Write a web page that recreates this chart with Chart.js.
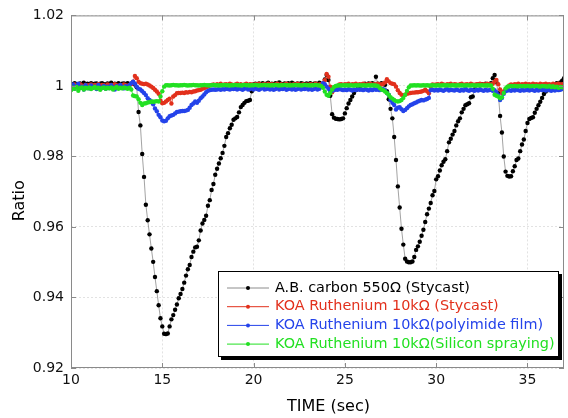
<!DOCTYPE html>
<html>
<head>
<meta charset="utf-8">
<script src="https://cdn.jsdelivr.net/npm/chart.js@4.4.0/dist/chart.umd.min.js"></script>
<style>
  html, body { margin: 0; padding: 0; background: #fff; }
  #wrap { width: 568px; height: 418px; }
</style>
</head>
<body>
<div id="wrap"><canvas id="myChart" width="568" height="418"></canvas></div>
<script>
// sample times (sec)
const time = [
  10.0, 10.1, 10.2, 10.3, 10.4, 10.5, 10.6, 10.7, 10.8, 10.9,
  11.0, 11.1, 11.2, 11.3, 11.4, 11.5, 11.6, 11.7, 11.8, 11.9,
  12.0, 12.1, 12.2, 12.3, 12.4, 12.5, 12.6, 12.7, 12.8, 12.9,
  13.0, 13.1, 13.2, 13.3, 13.4, 13.5, 13.6, 13.7, 13.8, 13.9,
  14.0, 14.1, 14.2, 14.3, 14.4, 14.5, 14.6, 14.7, 14.8, 14.9,
  15.0, 15.1, 15.2, 15.3, 15.4, 15.5, 15.6, 15.7, 15.8, 15.9,
  16.0, 16.1, 16.2, 16.3, 16.4, 16.5, 16.6, 16.7, 16.8, 16.9,
  17.0, 17.1, 17.2, 17.3, 17.4, 17.5, 17.6, 17.7, 17.8, 17.9,
  18.0, 18.1, 18.2, 18.3, 18.4, 18.5, 18.6, 18.7, 18.8, 18.9,
  19.0, 19.1, 19.2, 19.3, 19.4, 19.5, 19.6, 19.7, 19.8, 19.9,
  20.0, 20.1, 20.2, 20.3, 20.4, 20.5, 20.6, 20.7, 20.8, 20.9,
  21.0, 21.1, 21.2, 21.3, 21.4, 21.5, 21.6, 21.7, 21.8, 21.9,
  22.0, 22.1, 22.2, 22.3, 22.4, 22.5, 22.6, 22.7, 22.8, 22.9,
  23.0, 23.1, 23.2, 23.3, 23.4, 23.5, 23.6, 23.7, 23.8, 23.9,
  24.0, 24.1, 24.2, 24.3, 24.4, 24.5, 24.6, 24.7, 24.8, 24.9,
  25.0, 25.1, 25.2, 25.3, 25.4, 25.5, 25.6, 25.7, 25.8, 25.9,
  26.0, 26.1, 26.2, 26.3, 26.4, 26.5, 26.6, 26.7, 26.8, 26.9,
  27.0, 27.1, 27.2, 27.3, 27.4, 27.5, 27.6, 27.7, 27.8, 27.9,
  28.0, 28.1, 28.2, 28.3, 28.4, 28.5, 28.6, 28.7, 28.8, 28.9,
  29.0, 29.1, 29.2, 29.3, 29.4, 29.5, 29.6, 29.7, 29.8, 29.9,
  30.0, 30.1, 30.2, 30.3, 30.4, 30.5, 30.6, 30.7, 30.8, 30.9,
  31.0, 31.1, 31.2, 31.3, 31.4, 31.5, 31.6, 31.7, 31.8, 31.9,
  32.0, 32.1, 32.2, 32.3, 32.4, 32.5, 32.6, 32.7, 32.8, 32.9,
  33.0, 33.1, 33.2, 33.3, 33.4, 33.5, 33.6, 33.7, 33.8, 33.9,
  34.0, 34.1, 34.2, 34.3, 34.4, 34.5, 34.6, 34.7, 34.8, 34.9,
  35.0, 35.1, 35.2, 35.3, 35.4, 35.5, 35.6, 35.7, 35.8, 35.9,
  36.0, 36.1, 36.2, 36.3, 36.4, 36.5, 36.6, 36.7, 36.8, 36.9,
  37.0
];

// A.B. carbon 550 ohm (Stycast)
const carbon = [
  1.0006, 1.0004, 1.0008, 1.0005, 1.0003, 1.0007, 1.0005, 1.0009, 1.0004, 1.0006,
  1.0005, 1.0008, 1.0004, 1.0006, 1.0007, 1.0003, 1.0006, 1.0008, 1.0005, 1.0004,
  1.0007, 1.0005, 1.0009, 1.0004, 1.0006, 1.0005, 1.0008, 1.0003, 1.0006, 1.0007,
  1.0005, 1.0008, 1.0004, 1.0006, 1.0010, 1.0004, 0.9996, 0.9926, 0.9888, 0.9807,
  0.9742, 0.9663, 0.9619, 0.9579, 0.9539, 0.9501, 0.9458, 0.9418, 0.9378, 0.9341,
  0.9318, 0.9297, 0.9296, 0.9298, 0.9318, 0.9338, 0.9350, 0.9365, 0.9380, 0.9398,
  0.9410, 0.9424, 0.9442, 0.9462, 0.9480, 0.9492, 0.9515, 0.9530, 0.9542, 0.9544,
  0.9562, 0.9590, 0.9610, 0.9620, 0.9632, 0.9660, 0.9676, 0.9705, 0.9722, 0.9748,
  0.9765, 0.9780, 0.9795, 0.9810, 0.9830, 0.9855, 0.9866, 0.9880, 0.9890, 0.9904,
  0.9908, 0.9912, 0.9925, 0.9940, 0.9946, 0.9952, 0.9957, 0.9958, 0.9960, 0.9985,
  1.0004, 1.0006, 1.0003, 1.0007, 1.0005, 1.0008, 1.0004, 1.0006, 1.0009, 1.0005,
  1.0006, 1.0004, 1.0008, 1.0005, 1.0010, 1.0006, 1.0004, 1.0007, 1.0005, 1.0008,
  1.0005, 1.0009, 1.0006, 1.0004, 1.0007, 1.0005, 1.0008, 1.0006, 1.0004, 1.0007,
  1.0005, 1.0008, 1.0004, 1.0006, 1.0007, 1.0005, 1.0009, 1.0004, 1.0006, 1.0018,
  1.0031, 1.0017, 0.9972, 0.9920, 0.9910, 0.9907, 0.9906, 0.9905, 0.9906, 0.9908,
  0.9922, 0.9937, 0.9950, 0.9960, 0.9970, 0.9980, 0.9988, 0.9992, 0.9996, 1.0002,
  1.0004, 1.0006, 1.0003, 1.0007, 1.0005, 1.0008, 1.0004, 1.0026, 1.0006, 1.0004,
  1.0008, 1.0005, 1.0003, 0.9985, 0.9962, 0.9935, 0.9908, 0.9855, 0.9790, 0.9715,
  0.9655, 0.9595, 0.9550, 0.9510, 0.9502, 0.9500, 0.9500, 0.9502, 0.9515, 0.9535,
  0.9545, 0.9558, 0.9575, 0.9592, 0.9614, 0.9636, 0.9652, 0.9668, 0.9690, 0.9702,
  0.9735, 0.9744, 0.9760, 0.9775, 0.9785, 0.9792, 0.9815, 0.9840, 0.9850, 0.9862,
  0.9872, 0.9888, 0.9900, 0.9908, 0.9925, 0.9935, 0.9945, 0.9948, 0.9951, 0.9968,
  0.9970, 0.9990, 1.0002, 1.0004, 1.0001, 1.0005, 1.0003, 1.0006, 1.0002, 1.0004,
  1.0008, 1.0022, 1.0031, 1.0010, 0.9979, 0.9915, 0.9868, 0.9800, 0.9757, 0.9745,
  0.9743, 0.9744, 0.9758, 0.9772, 0.9790, 0.9794, 0.9815, 0.9834, 0.9848, 0.9872,
  0.9895, 0.9906, 0.9909, 0.9911, 0.9924, 0.9935, 0.9945, 0.9955, 0.9966, 0.9977,
  0.9984, 0.9988, 0.9993, 0.9996, 1.0000, 1.0004, 1.0008, 1.0006, 1.0010, 1.0015,
  1.0022
];

// KOA Ruthenium 10k ohm (Stycast)
const koaStycast = [
  1.0003, 1.0000, 1.0004, 0.9999, 1.0002, 1.0005, 1.0001, 0.9998, 1.0003, 1.0001,
  1.0002, 1.0004, 0.9999, 1.0003, 1.0001, 1.0005, 1.0000, 1.0003, 1.0002, 0.9999,
  1.0004, 1.0001, 1.0003, 1.0000, 1.0005, 1.0002, 0.9999, 1.0003, 1.0001, 1.0004,
  1.0002, 1.0000, 1.0003, 1.0005, 1.0012, 1.0028, 1.0022, 1.0012, 1.0008, 1.0006,
  1.0005, 1.0006, 1.0004, 1.0001, 0.9998, 0.9994, 0.9989, 0.9984, 0.9978, 0.9958,
  0.9951, 0.9952, 0.9956, 0.9960, 0.9964, 0.9950, 0.9970, 0.9974, 0.9979, 0.9980,
  0.9980, 0.9981, 0.9980, 0.9982, 0.9981, 0.9983, 0.9982, 0.9984, 0.9985, 0.9987,
  0.9988, 0.9989, 0.9992, 0.9994, 0.9996, 0.9998, 1.0001, 1.0003, 1.0004, 1.0002,
  1.0005, 1.0003, 1.0006, 1.0002, 1.0004, 1.0005, 1.0003, 1.0006, 1.0004, 1.0002,
  1.0004, 1.0006, 1.0003, 1.0005, 1.0002, 1.0004, 1.0006, 1.0003, 1.0005, 1.0004,
  1.0003, 1.0005, 1.0004, 1.0006, 1.0002, 1.0004, 1.0005, 1.0003, 1.0006, 1.0004,
  1.0005, 1.0003, 1.0004, 1.0006, 1.0002, 1.0005, 1.0003, 1.0004, 1.0006, 1.0003,
  1.0004, 1.0002, 1.0005, 1.0003, 1.0006, 1.0004, 1.0003, 1.0005, 1.0002, 1.0004,
  1.0003, 1.0005, 1.0004, 1.0002, 1.0006, 1.0003, 1.0004, 1.0005, 1.0008, 1.0016,
  1.0034, 1.0026, 0.9998, 0.9982, 0.9990, 0.9996, 1.0000, 1.0004, 1.0005, 1.0003,
  1.0005, 1.0004, 1.0006, 1.0003, 1.0005, 1.0004, 1.0006, 1.0003, 1.0005, 1.0004,
  1.0006, 1.0003, 1.0005, 1.0004, 1.0006, 1.0003, 1.0005, 1.0004, 1.0006, 1.0005,
  1.0004, 1.0006, 1.0010, 1.0019, 1.0013, 1.0008, 1.0006, 1.0005, 0.9998, 0.9988,
  0.9980, 0.9975, 0.9972, 0.9975, 0.9978, 0.9979, 0.9980, 0.9981, 0.9981, 0.9982,
  0.9982, 0.9983, 0.9984, 0.9986, 0.9989, 0.9985, 0.9979, 0.9998, 1.0004, 1.0003,
  1.0004, 1.0005, 1.0003, 1.0006, 1.0004, 1.0002, 1.0005, 1.0004, 1.0006, 1.0003,
  1.0005, 1.0004, 1.0002, 1.0005, 1.0006, 1.0003, 1.0004, 1.0005, 1.0003, 1.0006,
  1.0004, 1.0003, 1.0005, 1.0004, 1.0006, 1.0003, 1.0005, 1.0004, 1.0006, 1.0005,
  1.0004, 1.0006, 1.0012, 1.0017, 1.0005, 0.9990, 0.9980, 0.9984, 0.9990, 0.9996,
  1.0001, 1.0004, 1.0003, 1.0005, 1.0004, 1.0006, 1.0003, 1.0005, 1.0004, 1.0006,
  1.0004, 1.0005, 1.0003, 1.0006, 1.0004, 1.0005, 1.0003, 1.0006, 1.0004, 1.0005,
  1.0006, 1.0004, 1.0005, 1.0003, 1.0006, 1.0004, 1.0005, 1.0006, 1.0004, 1.0005,
  1.0004
];

// KOA Ruthenium 10k ohm (polyimide film)
const koaPolyimide = [
  0.9996, 1.0004, 0.9992, 0.9999, 1.0006, 0.9994, 0.9998, 0.9990, 1.0002, 0.9996,
  0.9993, 1.0001, 0.9995, 0.9998, 0.9991, 1.0003, 0.9996, 0.9994, 1.0000, 0.9992,
  0.9998, 0.9994, 1.0002, 0.9996, 0.9990, 0.9999, 0.9995, 1.0003, 0.9997, 0.9993,
  0.9999, 0.9995, 1.0002, 1.0008, 1.0012, 1.0006, 0.9998, 0.9992, 0.9990, 0.9985,
  0.9980, 0.9974, 0.9965, 0.9960, 0.9956, 0.9948, 0.9936, 0.9928, 0.9918, 0.9911,
  0.9902, 0.9900, 0.9901, 0.9908, 0.9914, 0.9916, 0.9918, 0.9922, 0.9926, 0.9927,
  0.9928, 0.9929, 0.9929, 0.9930, 0.9932, 0.9938, 0.9946, 0.9950, 0.9956, 0.9952,
  0.9958, 0.9965, 0.9970, 0.9976, 0.9982, 0.9986, 0.9988, 0.9989, 0.9990, 0.9989,
  0.9990, 0.9991, 0.9989, 0.9991, 0.9990, 0.9992, 0.9991, 0.9990, 0.9992, 0.9991,
  0.9992, 0.9990, 0.9993, 0.9991, 0.9989, 0.9992, 0.9994, 0.9990, 0.9991, 0.9993,
  0.9990, 0.9993, 0.9991, 0.9989, 0.9992, 0.9995, 0.9990, 0.9991, 0.9993, 0.9990,
  0.9992, 0.9989, 0.9991, 0.9994, 0.9990, 0.9992, 0.9991, 0.9993, 0.9989, 0.9991,
  0.9993, 0.9990, 0.9992, 0.9989, 0.9991, 0.9994, 0.9990, 0.9992, 0.9991, 0.9993,
  0.9990, 0.9992, 0.9989, 0.9991, 0.9993, 0.9990, 0.9992, 0.9998, 1.0008, 1.0005,
  0.9998, 0.9992, 0.9984, 0.9986, 0.9988, 0.9990, 0.9989, 0.9991, 0.9990, 0.9988,
  0.9990, 0.9988, 0.9991, 0.9989, 0.9987, 0.9990, 0.9988, 0.9991, 0.9989, 0.9990,
  0.9988, 0.9991, 0.9989, 0.9987, 0.9990, 0.9988, 0.9991, 0.9989, 0.9990, 0.9988,
  0.9990, 0.9991, 0.9988, 0.9980, 0.9975, 0.9960, 0.9952, 0.9946, 0.9933, 0.9938,
  0.9940, 0.9934, 0.9929, 0.9932, 0.9937, 0.9942, 0.9946, 0.9948, 0.9951, 0.9953,
  0.9956, 0.9958, 0.9960, 0.9959, 0.9961, 0.9963, 0.9966, 0.9988, 0.9989, 0.9987,
  0.9989, 0.9987, 0.9990, 0.9988, 0.9986, 0.9989, 0.9991, 0.9987, 0.9989, 0.9988,
  0.9987, 0.9990, 0.9988, 0.9986, 0.9989, 0.9987, 0.9995, 0.9988, 0.9986, 0.9989,
  0.9988, 0.9986, 0.9989, 0.9987, 0.9990, 0.9988, 0.9986, 0.9989, 0.9987, 0.9988,
  0.9989, 0.9986, 0.9988, 0.9982, 0.9974, 0.9960, 0.9966, 0.9978, 0.9985, 0.9987,
  0.9988, 0.9986, 0.9989, 0.9987, 0.9990, 0.9988, 0.9986, 0.9989, 0.9987, 0.9988,
  0.9989, 0.9987, 0.9990, 0.9988, 0.9986, 0.9989, 0.9987, 0.9990, 0.9988, 0.9989,
  0.9987, 0.9990, 0.9988, 0.9986, 0.9989, 0.9987, 0.9990, 0.9988, 0.9989, 0.9991,
  0.9992
];

// KOA Ruthenium 10k ohm (Silicon spraying)
const koaSilicon = [
  0.9988, 0.9995, 0.9992, 0.9997, 0.9986, 0.9994, 0.9996, 0.9990, 0.9995, 0.9993,
  0.9996, 0.9991, 0.9994, 0.9997, 0.9993, 0.9995, 0.9989, 0.9994, 0.9996, 0.9992,
  0.9995, 0.9993, 0.9996, 0.9990, 0.9994, 0.9997, 0.9992, 0.9995, 0.9993, 0.9996,
  0.9994, 0.9992, 0.9995, 0.9990, 0.9973, 0.9971, 0.9970, 0.9962, 0.9952, 0.9946,
  0.9950, 0.9951, 0.9953, 0.9954, 0.9956, 0.9955, 0.9956, 0.9957, 0.9956, 0.9970,
  0.9985, 0.9998, 1.0002, 1.0002, 1.0001, 1.0002, 1.0003, 1.0002, 1.0002, 1.0001,
  1.0002, 1.0002, 1.0003, 1.0002, 1.0001, 1.0002, 1.0002, 1.0003, 1.0002, 1.0002,
  1.0001, 1.0002, 1.0002, 1.0003, 1.0002, 1.0002, 1.0001, 1.0002, 1.0003, 1.0002,
  1.0002, 1.0001, 1.0002, 1.0002, 1.0003, 1.0002, 1.0002, 1.0001, 1.0002, 1.0002,
  1.0003, 1.0002, 1.0002, 1.0001, 1.0002, 1.0003, 1.0002, 1.0002, 1.0001, 1.0002,
  1.0002, 1.0003, 1.0002, 1.0001, 1.0002, 1.0002, 1.0003, 1.0002, 1.0002, 1.0001,
  1.0002, 1.0002, 1.0003, 1.0002, 1.0001, 1.0002, 1.0002, 1.0003, 1.0002, 1.0002,
  1.0001, 1.0002, 1.0002, 1.0003, 1.0002, 1.0002, 1.0001, 1.0002, 1.0003, 1.0002,
  1.0002, 1.0001, 1.0002, 1.0002, 1.0003, 1.0002, 1.0001, 1.0000, 0.9995, 0.9984,
  0.9975, 0.9972, 0.9980, 0.9990, 0.9997, 1.0000, 1.0001, 1.0002, 1.0001, 1.0002,
  1.0001, 1.0002, 1.0001, 1.0002, 1.0001, 1.0001, 1.0002, 1.0001, 1.0002, 1.0001,
  1.0002, 1.0001, 1.0001, 1.0002, 1.0001, 1.0002, 1.0001, 1.0001, 1.0000, 0.9995,
  0.9990, 0.9988, 0.9984, 0.9980, 0.9975, 0.9968, 0.9964, 0.9960, 0.9957, 0.9956,
  0.9957, 0.9960, 0.9966, 0.9975, 0.9986, 0.9996, 1.0001, 1.0001, 1.0002, 1.0001,
  1.0002, 1.0001, 1.0001, 1.0002, 1.0001, 1.0002, 1.0001, 1.0001, 1.0002, 1.0001,
  1.0001, 1.0002, 1.0001, 1.0001, 1.0002, 1.0001, 1.0002, 1.0001, 1.0001, 1.0002,
  1.0001, 1.0001, 1.0002, 1.0001, 1.0002, 1.0001, 1.0001, 1.0002, 1.0001, 1.0001,
  1.0002, 1.0001, 1.0001, 1.0002, 1.0001, 1.0002, 1.0001, 1.0001, 1.0002, 1.0001,
  1.0001, 0.9992, 0.9975, 0.9972, 0.9970, 0.9965, 0.9968, 0.9980, 0.9993, 0.9998,
  0.9999, 1.0000, 0.9999, 1.0000, 0.9999, 0.9999, 1.0000, 0.9999, 1.0000, 0.9999,
  1.0000, 0.9999, 0.9999, 1.0000, 0.9999, 1.0000, 0.9999, 0.9998, 1.0000, 0.9999,
  0.9999, 0.9998, 1.0000, 0.9997, 0.9999, 0.9996, 0.9998, 0.9995, 0.9997, 0.9996,
  0.9997
];

const seriesLabels = [
  'A.B. carbon 550Ω (Stycast)',
  'KOA Ruthenium 10kΩ (Stycast)',
  'KOA Ruthenium 10kΩ(polyimide film)',
  'KOA Ruthenium 10kΩ(Silicon spraying)'
];
const seriesValues = [carbon, koaStycast, koaPolyimide, koaSilicon];
const lineColors = ['#8c8c8c', '#e2301c', '#2443ea', '#22e022'];
const markColors = ['#000000', '#e2301c', '#2443ea', '#22e022'];
const textColors = ['#000000', '#e2301c', '#2443ea', '#22e022'];

const xTicks = [10, 15, 20, 25, 30, 35];
const yTicks = [0.92, 0.94, 0.96, 0.98, 1.0, 1.02];

Chart.defaults.font.family = '"DejaVu Sans", sans-serif';
Chart.defaults.font.size = 14;
Chart.defaults.color = '#111';

// frame box, inward tick marks, axis titles and the boxed legend
const decorPlugin = {
  id: 'decor',
  afterDraw(chart) {
    const { ctx, chartArea: a, scales: { x, y } } = chart;
    ctx.save();

    ctx.strokeStyle = '#8a8a8a';
    ctx.lineWidth = 1;
    ctx.strokeRect(a.left + 0.5, a.top + 0.5, a.right - a.left - 1, a.bottom - a.top - 1);
    ctx.beginPath();
    xTicks.forEach(v => {
      const px = Math.round(x.getPixelForValue(v)) + 0.5;
      ctx.moveTo(px, a.bottom); ctx.lineTo(px, a.bottom - 5);
      ctx.moveTo(px, a.top); ctx.lineTo(px, a.top + 5);
    });
    yTicks.forEach(v => {
      const py = Math.round(y.getPixelForValue(v)) + 0.5;
      ctx.moveTo(a.left, py); ctx.lineTo(a.left + 5, py);
      ctx.moveTo(a.right, py); ctx.lineTo(a.right - 5, py);
    });
    ctx.stroke();

    // axis titles
    ctx.fillStyle = '#000';
    ctx.font = '16px "DejaVu Sans"';
    ctx.textAlign = 'center';
    ctx.textBaseline = 'middle';
    ctx.fillText('TIME (sec)', (a.left + a.right) / 2 + 11, 407);
    ctx.save();
    ctx.translate(20, (a.top + a.bottom) / 2 + 9);
    ctx.rotate(-Math.PI / 2);
    ctx.fillText('Ratio', 0, 0);
    ctx.restore();

    // legend box
    const lx = a.right - 346, ly = a.bottom - 97, lw = 341, lh = 86;
    ctx.fillStyle = '#000';
    ctx.fillRect(lx + 3, ly + 3, lw, lh);
    ctx.fillStyle = '#fff';
    ctx.fillRect(lx, ly, lw, lh);
    ctx.strokeStyle = '#000';
    ctx.strokeRect(lx + 0.5, ly + 0.5, lw - 1, lh - 1);

    ctx.font = '14.4px "DejaVu Sans"';
    ctx.textAlign = 'left';
    seriesLabels.forEach((label, i) => {
      const ry = ly + 17 + i * 18.7;
      ctx.strokeStyle = lineColors[i];
      ctx.lineWidth = 1;
      ctx.beginPath();
      ctx.moveTo(lx + 9, ry); ctx.lineTo(lx + 51, ry);
      ctx.stroke();
      ctx.fillStyle = markColors[i];
      ctx.beginPath();
      ctx.arc(lx + 30, ry, 2, 0, Math.PI * 2);
      ctx.fill();
      ctx.fillStyle = textColors[i];
      ctx.fillText(label, lx + 57, ry);
    });
    ctx.restore();
  }
};

const datasets = seriesValues.map((vals, i) => ({
  label: seriesLabels[i],
  data: time.map((t, k) => ({ x: t, y: vals[k] })),
  borderColor: lineColors[i],
  borderWidth: 0.8,
  pointRadius: 2.2,
  pointBorderWidth: 0,
  pointBackgroundColor: markColors[i],
  pointBorderColor: markColors[i],
  order: 4 - i
}));

new Chart(document.getElementById('myChart').getContext('2d'), {
  type: 'line',
  data: { datasets: datasets },
  options: {
    responsive: false,
    animation: false,
    layout: { padding: { left: 0, right: 3, top: 15, bottom: 0 } },
    plugins: { legend: { display: false }, tooltip: { enabled: false } },
    scales: {
      x: {
        type: 'linear',
        min: 10,
        max: 37,
        afterBuildTicks: (scale) => { scale.ticks = xTicks.map(v => ({ value: v })); },
        afterFit: (scale) => { scale.height = 50; },
        ticks: { padding: 4, color: '#111', maxRotation: 0 },
        grid: { color: '#e2e2e2', drawTicks: false },
        border: { display: false, dash: [2, 2] }
      },
      y: {
        min: 0.92,
        max: 1.02,
        afterBuildTicks: (scale) => { scale.ticks = yTicks.map(v => ({ value: v })); },
        afterFit: (scale) => { scale.width = 71; },
        ticks: {
          padding: 7,
          color: '#111',
          callback: (v) => String(+Number(v).toFixed(2))
        },
        grid: { color: '#e2e2e2', drawTicks: false },
        border: { display: false, dash: [2, 2] }
      }
    }
  },
  plugins: [decorPlugin]
});
</script>
</body>
</html>
